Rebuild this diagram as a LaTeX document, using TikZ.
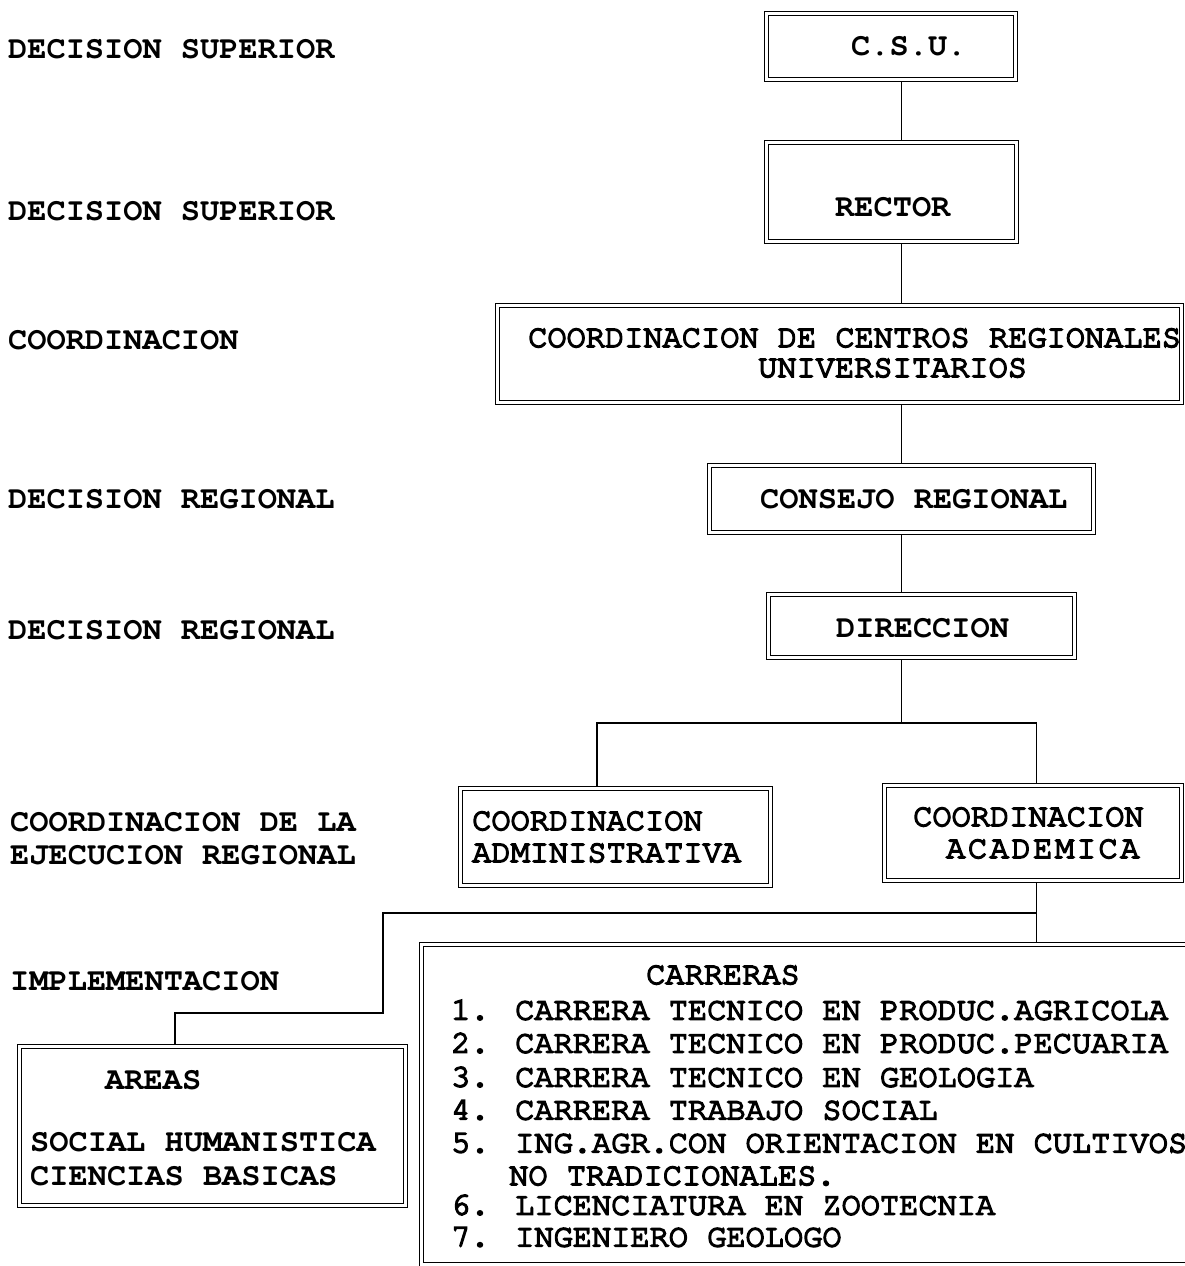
\documentclass[tikz,border=0pt]{standalone}
\usepackage{fontspec}
\newfontfamily\mono{TeX Gyre Cursor}
\newfontfamily\monomed[FakeBold=5]{TeX Gyre Cursor}
\usetikzlibrary{backgrounds}
\begin{document}
\begin{tikzpicture}[x=1pt,y=-1pt,
  box/.style={draw, double, double distance=3.4pt, line width=1.1pt, inner sep=0pt, rectangle},
  tb/.style={font=\mono\bfseries\fontsize{32}{33}\selectfont, inner sep=0pt, anchor=west},
  tm/.style={font=\monomed\fontsize{32}{33}\selectfont, inner sep=0pt, anchor=west},
  conn/.style={line width=1.2pt}]
\path[use as bounding box] (0,0) rectangle (1185,1266);
\clip (0,0) rectangle (1185,1266);

% level labels
\node[tb] (l1) at (8,49) {DECISION SUPERIOR};
\node[tb] (l2) at (8,211) {DECISION SUPERIOR};
\node[tb] (l3) at (8,340) {COORDINACION};
\node[tb] (l4) at (8,499) {DECISION REGIONAL};
\node[tb] (l5) at (8,630) {DECISION REGIONAL};
\node[tb] (l6a) at (10,822) {COORDINACION DE LA};
\node[tb] (l6b) at (10,855) {EJECUCION REGIONAL};
\node[tb] (l7) at (10,981) {IMPLEMENTACION};

% boxes
\node[box, minimum width=249pt, minimum height=66pt] (csu) at (891,46.5) {};
\node[box, minimum width=250pt, minimum height=99pt] (rector) at (891.5,192) {};
\node[box, minimum width=684pt, minimum height=97pt] (coord) at (839.5,354) {};
\node[box, minimum width=384pt, minimum height=67pt] (consejo) at (901.5,499) {};
\node[box, minimum width=306pt, minimum height=63pt] (dir) at (921.5,626) {};
\node[box, minimum width=310pt, minimum height=97pt] (adm) at (615.5,837) {};
\node[box, minimum width=297pt, minimum height=95pt] (acad) at (1033,833) {};
\node[box, minimum width=386pt, minimum height=159pt] (areas) at (212.5,1126) {};
\node[box, minimum width=778.5pt, minimum height=320.5pt] (car) at (810.75,1104.75) {};

% box texts
\node[tb] (tcsu) at (851,46) {C.S.U.};
\node[tb] (trector) at (835,207) {RECTOR};
\node[tm] (tcoord1) at (528,338) {COORDINACION DE CENTROS REGIONALES};
\node[tm] (tcoord2) at (758,368) {UNIVERSITARIOS};
\node[tb] (tconsejo) at (760,499) {CONSEJO REGIONAL};
\node[tb] (tdir) at (836,628) {DIRECCION};
\node[tm] (tadm1) at (472,821) {COORDINACION};
\node[tm] (tadm2) at (472,853) {ADMINISTRATIVA};
\node[tm] (tacad1) at (913,817) {COORDINACION};
\node[tm] (tacad2) at (946,849) {\addfontfeature{LetterSpace=8}ACADEMICA};
\node[tb] (tar1) at (105,1080) {AREAS};
\node[tb] (tar2) at (30,1142) {SOCIAL HUMANISTICA};
\node[tb] (tar3) at (30,1176) {CIENCIAS BASICAS};
\node[tm] (tc0) at (646,975) {CARRERAS};
\node[tm] (tc1) at (451,1010) {1. CARRERA TECNICO EN PRODUC.AGRICOLA};
\node[tm] (tc2) at (451,1043) {2. CARRERA TECNICO EN PRODUC.PECUARIA};
\node[tm] (tc3) at (451,1077) {3. CARRERA TECNICO EN GEOLOGIA};
\node[tm] (tc4) at (451,1110) {4. CARRERA TRABAJO SOCIAL};
\node[tm] (tc5) at (451,1143) {5. ING.AGR.CON ORIENTACION EN CULTIVOS};
\node[tm] (tc5b) at (509,1176) {NO TRADICIONALES.};
\node[tm] (tc6) at (451,1205) {6. LICENCIATURA EN ZOOTECNIA};
\node[tm] (tc7) at (451,1237) {7. INGENIERO GEOLOGO};

% connector helper coordinates
\coordinate (sp) at (901.5,0);
\coordinate (j1) at (901.5,723);
\coordinate (xa) at (597,0);
\coordinate (xb) at (1036.5,0);
\coordinate (j2) at (1036.5,913);
\coordinate (k1) at (383,1013);
\coordinate (xc) at (175,0);

\begin{scope}[on background layer]
\draw[conn] (csu.south -| sp) -- (rector.north -| sp);
\draw[conn] (rector.south -| sp) -- (coord.north -| sp);
\draw[conn] (coord.south -| sp) -- (consejo.north -| sp);
\draw[conn] (consejo.south -| sp) -- (dir.north -| sp);
\draw[conn] (dir.south -| sp) -- (j1);
\draw[conn] (adm.north -| xa) |- (j1) -| (acad.north -| xb);
\draw[conn] (acad.south -| xb) -- (car.north -| xb);
\draw[conn] (j2) -| (k1) -| (areas.north -| xc);
\end{scope}
\end{tikzpicture}
\end{document}
